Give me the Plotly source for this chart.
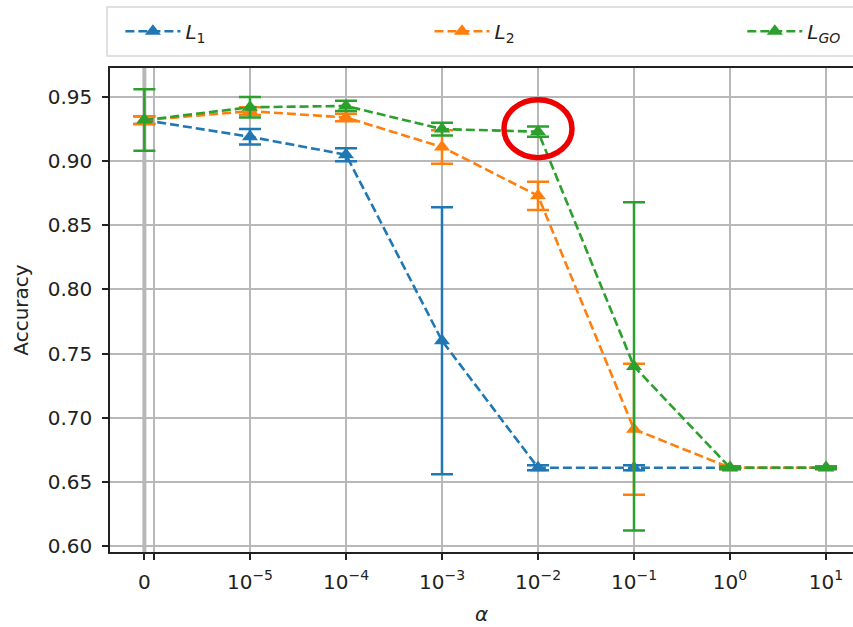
import numpy as np
import plotly.graph_objects as go

# Regularisation strength and the tick labels shown for each value
ALPHA = [0, 1e-5, 1e-4, 1e-3, 1e-2, 1e-1, 1e0, 1e1]
ALPHA_LABELS = ["0", "10<sup>−5</sup>", "10<sup>−4</sup>", "10<sup>−3</sup>",
                "10<sup>−2</sup>", "10<sup>−1</sup>", "10<sup>0</sup>", "10<sup>1</sup>"]

# Mean accuracy and spread per penalty
L1_MEAN = [0.932, 0.919, 0.905, 0.760, 0.661, 0.661, 0.661, 0.661]
L1_ERR = [0.003, 0.006, 0.005, 0.104, 0.002, 0.002, 0.001, 0.001]
L2_MEAN = [0.932, 0.939, 0.934, 0.911, 0.873, 0.691, 0.661, 0.661]
L2_ERR = [0.003, 0.003, 0.003, 0.013, 0.011, 0.051, 0.001, 0.001]
LGO_MEAN = [0.932, 0.942, 0.943, 0.925, 0.923, 0.740, 0.661, 0.661]
LGO_ERR = [0.024, 0.008, 0.004, 0.005, 0.004, 0.128, 0.001, 0.001]

Y_TICKS = [0.60, 0.65, 0.70, 0.75, 0.80, 0.85, 0.90, 0.95]

ZERO_POS = -1.1  # where alpha = 0 sits on the symlog-style axis


def to_pos(a):
    return ZERO_POS if a == 0 else float(np.log10(a)) + 5


xpos = [to_pos(a) for a in ALPHA]

FONT = "DejaVu Sans"
GRID = "#b8b8b8"

fig = go.Figure()

series = [
    ("<i>L</i><sub>1</sub>", L1_MEAN, L1_ERR, "#1f77b4", "legend", 0.014),
    ("<i>L</i><sub>2</sub>", L2_MEAN, L2_ERR, "#ff7f0e", "legend2", 0.430),
    ("<i>L<sub>GO</sub></i>", LGO_MEAN, LGO_ERR, "#2ca02c", "legend3", 0.851),
]
for name, mean, err, color, leg, _ in series:
    fig.add_trace(go.Scatter(
        x=xpos, y=mean, name=name, mode="lines+markers", legend=leg,
        line=dict(color=color, width=2.6, dash="9px,4px"),
        marker=dict(symbol="triangle-up", size=14, color=color),
        error_y=dict(type="data", array=err, visible=True, color=color,
                     thickness=2.5, width=11),
    ))

# extra zero-region grid lines of the symlog axis
fig.add_shape(type="line", xref="x", yref="paper", x0=ZERO_POS, x1=ZERO_POS,
              y0=0, y1=1, line=dict(color=GRID, width=4), layer="below")

# highlight ring around the L_GO result at alpha = 1e-2
hl = ALPHA.index(1e-2)
fig.add_shape(type="circle", xref="x", yref="y",
              xsizemode="pixel", ysizemode="pixel",
              xanchor=xpos[hl], yanchor=LGO_MEAN[hl],
              x0=-34, x1=34, y0=-26, y1=32,
              line=dict(color="#ee0000", width=5.5), layer="above")

# legend frame spanning the full width above the axes
fig.add_shape(type="rect", xref="paper", yref="paper",
              x0=-0.004, x1=1.02, y0=1.025, y1=1.126,
              line=dict(color="#d6d6d6", width=1.5), fillcolor="white",
              layer="below")

legend_style = dict(orientation="h", y=1.076, xanchor="left", yanchor="middle",
                    itemwidth=55, bgcolor="rgba(0,0,0,0)", font=dict(size=20))

fig.update_layout(
    width=853, height=627,
    margin=dict(l=110, r=0, t=68, b=75),
    paper_bgcolor="white", plot_bgcolor="white",
    font=dict(family=FONT, size=20, color="#222"),
    showlegend=True,
    legend=dict(x=series[0][5], **legend_style),
    legend2=dict(x=series[1][5], **legend_style),
    legend3=dict(x=series[2][5], **legend_style),
    xaxis=dict(
        range=[-1.458, 6.281],
        tickmode="array",
        tickvals=xpos + [-1.0],
        ticktext=ALPHA_LABELS + [""],
        showgrid=True, gridcolor=GRID, gridwidth=1.6,
        zeroline=False,
        showline=True, linecolor="#222", linewidth=1.6, mirror=True,
        ticks="outside", ticklen=6, tickwidth=1.6, tickcolor="#222",
        ticklabelstandoff=5,
        tickfont=dict(size=20),
        title=dict(text="<i>α</i>", font=dict(size=20), standoff=14),
    ),
    yaxis=dict(
        range=[0.5953, 0.9726],
        tickmode="array",
        tickvals=Y_TICKS,
        ticktext=[f"{v:.2f}" for v in Y_TICKS],
        showgrid=True, gridcolor=GRID, gridwidth=1.6,
        zeroline=False,
        showline=True, linecolor="#222", linewidth=1.6, mirror=False,
        ticks="outside", ticklen=6, tickwidth=1.6, tickcolor="#222",
        ticklabelstandoff=6,
        tickfont=dict(size=20),
        title=dict(text="Accuracy", font=dict(size=20), standoff=14),
    ),
)

fig.write_html("out.html")
